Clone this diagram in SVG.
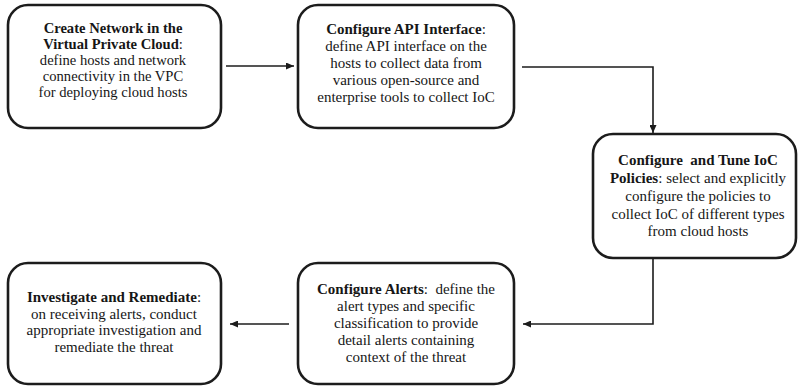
<svg xmlns="http://www.w3.org/2000/svg" width="798" height="386" viewBox="0 0 798 386">
  <style>
    .box { fill: #ffffff; stroke: #1c1c1c; stroke-width: 2.6; }
    .wire { fill: none; stroke: #1c1c1c; stroke-width: 1.6; }
    .lbl { fill: #161616; text-anchor: middle; white-space: pre; }
    .s14 { font-size: 14.6px; }
    .s15 { font-size: 15px; }
    .b { font-weight: bold; }
  </style>
  <defs>
    <marker id="head" viewBox="0 0 10 10" refX="10" refY="5" markerWidth="8" markerHeight="7" markerUnits="userSpaceOnUse" orient="auto" preserveAspectRatio="none">
      <path d="M0,0 L10,5 L0,10 z" fill="#1c1c1c"/>
    </marker>
  </defs>
  <rect width="798" height="386" fill="#ffffff"/>

  <g id="connectors">
    <path class="wire" d="M226,66 H294" marker-end="url(#head)"/>
    <path class="wire" d="M522,67 H653 V133" marker-end="url(#head)"/>
    <path class="wire" d="M653,258 V324 H523" marker-end="url(#head)"/>
    <path class="wire" d="M289,324 H230" marker-end="url(#head)"/>
  </g>

  <g font-family="'Liberation Serif', 'DejaVu Serif', serif">
    <g id="create-network">
      <rect class="box" x="8" y="5" width="213" height="123" rx="20"/>
      <text class="lbl s14" x="113" y="32.5"><tspan class="b">Create Network in the</tspan></text>
      <text class="lbl s14" x="113" y="48.5"><tspan class="b">Virtual Private Cloud</tspan>:</text>
      <text class="lbl s14" x="113" y="64.5">define hosts and network</text>
      <text class="lbl s14" x="113" y="80.5">connectivity in the VPC</text>
      <text class="lbl s14" x="113" y="96.5">for deploying cloud hosts</text>
    </g>

    <g id="configure-api">
      <rect class="box" x="298" y="5" width="216" height="123" rx="20"/>
      <text class="lbl s15" x="406" y="34"><tspan class="b">Configure API Interface</tspan>:</text>
      <text class="lbl s15" x="406" y="51">define API interface on the</text>
      <text class="lbl s15" x="406" y="68">hosts to collect data from</text>
      <text class="lbl s15" x="406" y="85">various open-source and</text>
      <text class="lbl s15" x="406" y="102">enterprise tools to collect IoC</text>
    </g>

    <g id="tune-policies">
      <rect class="box" x="593" y="134" width="203" height="124" rx="20"/>
      <text class="lbl s15" x="698" y="165"><tspan class="b">Configure  and Tune IoC</tspan></text>
      <text class="lbl s15" x="698" y="183"><tspan class="b">Policies</tspan>: select and explicitly</text>
      <text class="lbl s15" x="698" y="201">configure the policies to</text>
      <text class="lbl s15" x="698" y="218.5">collect IoC of different types</text>
      <text class="lbl s15" x="698" y="236">from cloud hosts</text>
    </g>

    <g id="configure-alerts">
      <rect class="box" x="298" y="263" width="216" height="121" rx="20"/>
      <text class="lbl s15" x="406" y="294"><tspan class="b">Configure Alerts</tspan>:  define the</text>
      <text class="lbl s15" x="406" y="311">alert types and specific</text>
      <text class="lbl s15" x="406" y="328">classification to provide</text>
      <text class="lbl s15" x="406" y="345">detail alerts containing</text>
      <text class="lbl s15" x="406" y="362">context of the threat</text>
    </g>

    <g id="investigate">
      <rect class="box" x="8" y="263" width="213" height="121" rx="20"/>
      <text class="lbl s15" x="114" y="302"><tspan class="b">Investigate and Remediate</tspan>:</text>
      <text class="lbl s15" x="114" y="318.5">on receiving alerts, conduct</text>
      <text class="lbl s15" x="114" y="335">appropriate investigation and</text>
      <text class="lbl s15" x="114" y="351.5">remediate the threat</text>
    </g>
  </g>
</svg>
